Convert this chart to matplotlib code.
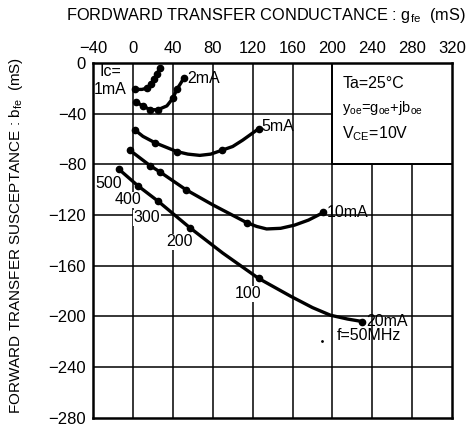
import numpy as np
from matplotlib import pyplot as plt

plt.rcParams['font.family'] = ['Liberation Sans', 'DejaVu Sans']
plt.rcParams['mathtext.fontset'] = 'custom'
plt.rcParams['mathtext.rm'] = 'Liberation Sans'

# DONNEES (gfe, bfe en mS)
g_1mA = [2, 9, 14, 18, 21, 24, 27]
b_1mA = [-21, -21, -20, -17, -13, -9, -4]

g_2mA = [3, 10, 17, 25, 34, 40, 44, 48, 51]
b_2mA = [-31, -34, -37, -37, -34, -28, -21, -16, -12]

g_5mA = [2, 10, 22, 44, 55, 67, 78, 89, 100, 110, 126]
b_5mA = [-53, -58, -63, -70, -72, -73, -72, -69, -66, -61, -52]

g_10mA = [-3, 17, 27, 53, 80, 114, 124, 134, 148, 162, 176, 191]
b_10mA = [-69, -81, -86, -100, -112, -126, -129, -131, -130.5, -128, -124, -118]

g_20mA = [-14, 5, 25, 57, 90, 126, 158, 180, 198, 215, 230]
b_20mA = [-84, -97, -109, -130, -150, -170, -184, -193, -199, -202, -204]

courants = ['1mA', '2mA', '5mA', '10mA', '20mA']

freqs = ['500', '400', '300', '200', '100']
freq_g = [-24, -5, 14, 47, 115]
freq_b = [-95, -108, -122, -141, -182]

x_ticks = [-40, 0, 40, 80, 120, 160, 200, 240, 280, 320]
y_ticks = [0, -40, -80, -120, -160, -200, -240, -280]

# TRACE
fig = plt.figure(figsize=(4.7, 4.3), dpi=100)
ax = fig.add_axes([0.198, 0.028, 0.764, 0.826])
ax.set_xlim(-40, 320)
ax.set_ylim(-280, 0)

# grille (sans le cadre des conditions)
for x in x_ticks[1:-1]:
    top = -80 if x > 200 else 0
    ax.plot([x, x], [-280, top], color='black', lw=1.1, zorder=1)
for y in y_ticks[1:-1]:
    right = 200 if y > -80 else 320
    ax.plot([-40, right], [y, y], color='black', lw=1.1, zorder=1)
ax.plot([200, 200, 320], [0, -80, -80], color='black', lw=1.4, zorder=1)

style = dict(color='black', lw=2.4, marker='o', ms=4.5, zorder=3)
ax.plot(g_1mA, b_1mA, markevery=[0, 2, 3, 4, 5, 6], **style)
ax.plot(g_2mA, b_2mA, markevery=[0, 1, 2, 3, 5, 6, 8], **style)
ax.plot(g_5mA, b_5mA, markevery=[0, 2, 3, 7, 10], **style)
ax.plot(g_10mA, b_10mA, markevery=[0, 1, 2, 3, 5, 11], **style)
ax.plot(g_20mA, b_20mA, markevery=[0, 1, 2, 3, 5, 10], **style)

fs = 11.5
ax.text(-23, -7, 'Ic=', fontsize=fs, ha='center', va='center')
ax.text(-23, -21, courants[0], fontsize=fs, ha='center', va='center')
ax.text(54, -12, courants[1], fontsize=fs, ha='left', va='center')
ax.text(129, -50, courants[2], fontsize=fs, ha='left', va='center')
ax.text(194, -118, courants[3], fontsize=fs, ha='left', va='center')
ax.text(234, -204, courants[4], fontsize=fs, ha='left', va='center')
ax.text(204, -215, 'f=50MHz', fontsize=fs, ha='left', va='center')
ax.plot([190], [-219], marker='.', color='black', ms=2)

for lab, g, b in zip(freqs, freq_g, freq_b):
    ax.text(g, b, lab, fontsize=fs, ha='center', va='center',
            bbox=dict(facecolor='white', edgecolor='none', pad=0.3))

ax.text(210, -16, 'Ta=25°C', fontsize=fs, ha='left', va='center')
ax.text(210, -36, r'y$_{\mathregular{oe}}$=g$_{\mathregular{oe}}$+jb$_{\mathregular{oe}}$',
        fontsize=10.5, ha='left', va='center')
ax.text(210, -56, r'V$_{\mathregular{CE}}$=10V', fontsize=fs, ha='left', va='center')

ax.xaxis.tick_top()
ax.set_xticks(x_ticks)
ax.set_xticklabels(['\u221240'] + [str(v) for v in x_ticks[1:]])
ax.set_yticks(y_ticks)
ax.set_yticklabels(['0'] + ['\u2212%d' % -v for v in y_ticks[1:]])
ax.tick_params(length=0, labelsize=12, pad=5)
for s in ax.spines.values():
    s.set_linewidth(1.8)

fig.text(0.566, 0.963, r'FORDWARD TRANSFER CONDUCTANCE : g$_{\mathregular{fe}}$  (mS)',
         fontsize=11.8, ha='center', va='center')
fig.text(0.033, 0.453, r'FORWARD TRANSFER SUSCEPTANCE : b$_{\mathregular{fe}}$  (mS)',
         fontsize=11, ha='center', va='center', rotation=90)

fig.savefig('out.png', dpi=100)
